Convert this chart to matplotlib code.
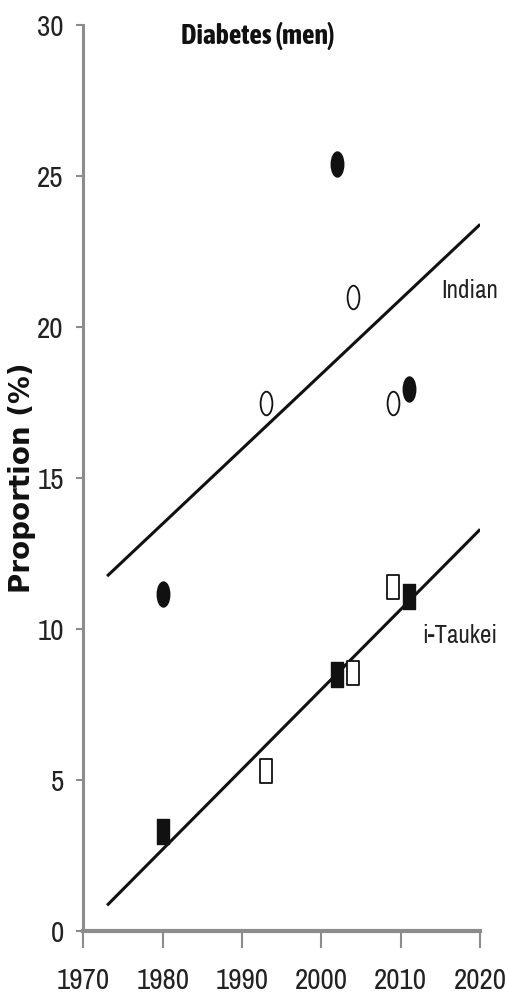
import matplotlib
matplotlib.use("Agg")
import matplotlib.pyplot as plt
from matplotlib.path import Path
from matplotlib.transforms import Affine2D
from matplotlib import font_manager

# ---- data ----
years_ind_filled = [1980, 2002, 2011]
ind_filled = [11.15, 25.4, 17.95]
years_ind_open = [1993, 2004, 2009]
ind_open = [17.5, 21.0, 17.5]
years_tk_filled = [1980, 2002, 2011]
tk_filled = [3.3, 8.5, 11.1]
years_tk_open = [1993, 2004, 2009]
tk_open = [5.3, 8.55, 11.4]
ind_line_x = [1973, 2020]
ind_line_y = [11.75, 23.4]
tk_line_x = [1973, 2020]
tk_line_y = [0.85, 13.3]
xticks = [1970, 1980, 1990, 2000, 2010, 2020]
yticks = [0, 5, 10, 15, 20, 25, 30]

fl = font_manager.fontManager.ttflist
names = sorted({f.name for f in fl})
cands = [n for n in names if ('Narrow' in n or 'Condensed' in n)]
bold_cands = [n for n in cands
              if any(f.name == n and (f.weight in ('bold', 700) or
                                      (isinstance(f.weight, int) and f.weight >= 600))
                     for f in fl)]
if cands:
    narrow = cands[0]
elif 'Liberation Sans' in names:
    narrow = 'Liberation Sans'
else:
    narrow = 'DejaVu Sans'
narrow_bold = bold_cands[0] if bold_cands else narrow
plt.rcParams['font.family'] = [narrow, 'DejaVu Sans']

# tall (vertically stretched) markers
ell = Path.unit_circle().transformed(Affine2D().scale(0.5, 1.0))
rect = Path([(-0.5, -1), (0.5, -1), (0.5, 1), (-0.5, 1), (-0.5, -1)],
            [Path.MOVETO, Path.LINETO, Path.LINETO, Path.LINETO, Path.CLOSEPOLY])

fig = plt.figure(figsize=(5.06, 10.0), dpi=100)
ax = fig.add_axes([0.1646, 0.069, 0.949 - 0.1646, 0.975 - 0.069])

ax.plot(ind_line_x, ind_line_y, color='#111111', lw=2.2, solid_capstyle='butt')
ax.plot(tk_line_x, tk_line_y, color='#111111', lw=2.2, solid_capstyle='butt')

ax.plot(years_ind_filled, ind_filled, ls='none', marker=ell, ms=18,
        mfc='#111111', mec='#111111', mew=1.0)
ax.plot(years_ind_open, ind_open, ls='none', marker=ell, ms=17,
        mfc='white', mec='#111111', mew=1.3)
ax.plot(years_tk_filled, tk_filled, ls='none', marker=rect, ms=18,
        mfc='#111111', mec='#111111', mew=1.0)
ax.plot(years_tk_open, tk_open, ls='none', marker=rect, ms=17,
        mfc='white', mec='#111111', mew=1.3)

ax.set_xlim(1970, 2020)
ax.set_ylim(0, 30)
ax.set_xticks(xticks)
ax.set_yticks(yticks)
ax.set_xticklabels([str(v) for v in xticks], fontsize=21, color='#222222')
ax.set_yticklabels([str(v) for v in yticks], fontsize=21, color='#222222')

for s in ['top', 'right']:
    ax.spines[s].set_visible(False)
ax.spines['left'].set_color('#8c8c8c')
ax.spines['left'].set_linewidth(2.2)
ax.spines['bottom'].set_color('#8c8c8c')
ax.spines['bottom'].set_linewidth(3.0)
ax.tick_params(axis='y', length=5, width=1.5, color='#8c8c8c', pad=9)
ax.tick_params(axis='x', length=12, width=1.5, color='#8c8c8c', pad=14)

ax.set_ylabel('Proportion (%)', fontsize=20, fontweight='bold',
              family='DejaVu Sans', color='#111111')
ax.yaxis.set_label_coords(-0.118, 0.5)

ax.text(0.44, 0.988, 'Diabetes (men)', transform=ax.transAxes, ha='center',
        va='center', fontsize=20, fontweight='bold', family=[narrow_bold, 'DejaVu Sans'],
        color='#111111')
ax.text(2022.2, 21.2, 'Indian', ha='right', va='center', fontsize=18,
        color='#222222')
ax.text(2022.2, 9.8, 'i-Taukei', ha='right', va='center', fontsize=18,
        color='#222222')

fig.savefig('out.png', dpi=100)
